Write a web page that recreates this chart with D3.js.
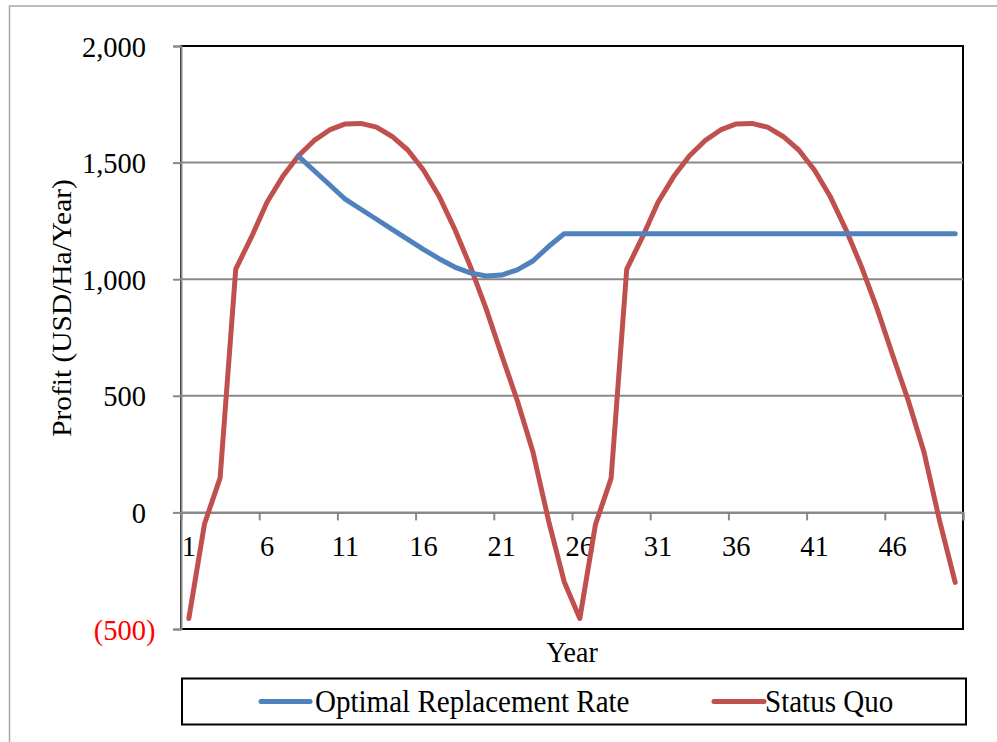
<!DOCTYPE html>
<html>
<head>
<meta charset="utf-8">
<script src="https://cdn.jsdelivr.net/npm/d3@7/dist/d3.min.js"></script>
<style>
  html, body { margin: 0; padding: 0; background: #fff; }
  svg { display: block; font-family: "Liberation Serif", "Times New Roman", serif; }
</style>
</head>
<body>
<svg id="chart" width="997" height="742"></svg>
<script>
// Profit per hectare per year over a 50-year horizon
const years = [1,2,3,4,5,6,7,8,9,10,11,12,13,14,15,16,17,18,19,20,21,22,23,24,25,
               26,27,28,29,30,31,32,33,34,35,36,37,38,39,40,41,42,43,44,45,46,47,48,49,50];

const statusQuo = [-455, -50, 148, 1043, 1180, 1330, 1440, 1528, 1594, 1640, 1666, 1668, 1652,
                   1612, 1554, 1468, 1356, 1215, 1055, 875, 675, 480, 260, -35, -297,
                   -455, -52, 146, 1043, 1180, 1330, 1440, 1528, 1594, 1640, 1666, 1668, 1652,
                   1612, 1554, 1468, 1356, 1215, 1055, 875, 675, 480, 260, -35, -300];

const optimalRate = [null, null, null, null, null, null, null, 1528, 1466, 1405, 1343, 1300, 1257,
                     1214, 1171, 1128, 1088, 1052, 1027, 1014, 1018, 1040, 1078, 1140, 1195,
                     1195, 1195, 1195, 1195, 1195, 1195, 1195, 1195, 1195, 1195, 1195, 1195, 1195,
                     1195, 1195, 1195, 1195, 1195, 1195, 1195, 1195, 1195, 1195, 1195, 1195];

const yTicks = [-500, 0, 500, 1000, 1500, 2000];
const xLabelYears = [1, 6, 11, 16, 21, 26, 31, 36, 41, 46];
const xTickBounds = [5, 10, 15, 20, 25, 30, 35, 40, 45, 50];

const seriesNames = ["Optimal Replacement Rate", "Status Quo"];
const seriesColors = ["#4F81BD", "#C0504D"];

const svg = d3.select("#chart");
const plot = { left: 181, right: 963, top: 46, bottom: 629 };
const stretch = 1.07; // text glyphs are set slightly taller than wide

const x = d3.scaleBand().domain(years).range([plot.left, plot.right]).padding(0);
const xEdge = d3.scaleLinear().domain([0, years.length]).range([plot.left, plot.right]);
const y = d3.scaleLinear().domain([-500, 2000]).range([plot.bottom, plot.top]);
const xc = d => x(d) + x.bandwidth() / 2;

// outer chart frame
svg.append("rect")
  .attr("x", 9.5).attr("y", 6).attr("width", 1100).attr("height", 900)
  .attr("fill", "none").attr("stroke", "#a6a6a6").attr("stroke-width", 1.5);

// plot area frame
svg.append("rect")
  .attr("x", plot.left).attr("y", plot.top)
  .attr("width", plot.right - plot.left).attr("height", plot.bottom - plot.top)
  .attr("fill", "none").attr("stroke", "#000").attr("stroke-width", 2);

// horizontal gridlines
svg.append("g")
  .selectAll("line")
  .data(yTicks.filter(v => v > -500 && v < 2000))
  .join("line")
  .attr("x1", plot.left).attr("x2", plot.right)
  .attr("y1", d => y(d)).attr("y2", d => y(d))
  .attr("stroke", "#898989").attr("stroke-width", 2);

// value axis
const yAxis = svg.append("g")
  .attr("transform", `translate(${plot.left},0)`)
  .call(d3.axisLeft(y).tickValues(yTicks).tickSize(8).tickFormat(""));
yAxis.select(".domain").attr("stroke", "#898989").attr("stroke-width", 2);
yAxis.selectAll(".tick line").attr("stroke", "#898989").attr("stroke-width", 2);

// value labels, accounting-style: negatives in red parentheses
const parenPad = 0.333; // width of ")" in em, reserved on positive labels
svg.append("g")
  .selectAll("text")
  .data(yTicks)
  .join("text")
  .attr("transform", d => `translate(155.5,${y(d) + 10.5}) scale(1,${stretch})`)
  .attr("dx", d => d < 0 ? 0 : `-${parenPad}em`)
  .attr("text-anchor", "end")
  .attr("font-size", 28.5)
  .attr("fill", d => d < 0 ? "#FF0000" : "#000")
  .text(d => d < 0 ? `(${d3.format(",")(-d)})` : d3.format(",")(d));

// category axis crossing at zero: tick marks at category boundaries
const xAxis = svg.append("g")
  .attr("transform", `translate(0,${y(0)})`)
  .call(d3.axisBottom(xEdge).tickValues(xTickBounds).tickSize(8).tickFormat(""));
xAxis.select(".domain").attr("stroke", "#898989").attr("stroke-width", 2);
xAxis.selectAll(".tick line").attr("stroke", "#898989").attr("stroke-width", 2);

// category labels
svg.append("g")
  .selectAll("text")
  .data(xLabelYears)
  .join("text")
  .attr("transform", d => `translate(${xc(d)},${y(0) + 43.5}) scale(1,${stretch})`)
  .attr("text-anchor", "middle")
  .attr("font-size", 28.5)
  .text(d => d);

// series lines
const line = d3.line()
  .defined(d => d.v !== null)
  .x(d => xc(d.year))
  .y(d => y(d.v));

const series = [optimalRate, statusQuo].map((vals, i) => ({
  name: seriesNames[i],
  color: seriesColors[i],
  points: years.map((yr, j) => ({ year: yr, v: vals[j] }))
}));

// status quo drawn first, optimal path on top
svg.append("g")
  .selectAll("path")
  .data([series[1], series[0]])
  .join("path")
  .attr("d", d => line(d.points))
  .attr("fill", "none")
  .attr("stroke", d => d.color)
  .attr("stroke-width", 5)
  .attr("stroke-linejoin", "round")
  .attr("stroke-linecap", "round");

// axis titles
svg.append("text")
  .attr("transform", `translate(${(plot.left + plot.right) / 2},661.5) scale(1,${stretch})`)
  .attr("text-anchor", "middle")
  .attr("font-size", 28)
  .text("Year");

svg.append("text")
  .attr("transform", `translate(71,308) rotate(-90) scale(${stretch},1)`)
  .attr("text-anchor", "middle")
  .attr("font-size", 27.5)
  .text("Profit (USD/Ha/Year)");

// legend
const legend = svg.append("g");
legend.append("rect")
  .attr("x", 182).attr("y", 678.5).attr("width", 784).attr("height", 46)
  .attr("fill", "#fff").attr("stroke", "#000").attr("stroke-width", 2);

const legendItems = [
  { s: series[0], x0: 261, x1: 310, tx: 315 },
  { s: series[1], x0: 714, x1: 764, tx: 765 }
];
legendItems.forEach(it => {
  legend.append("line")
    .attr("x1", it.x0).attr("x2", it.x1)
    .attr("y1", 701.5).attr("y2", 701.5)
    .attr("stroke", it.s.color).attr("stroke-width", 5)
    .attr("stroke-linecap", "round");
  legend.append("text")
    .attr("transform", `translate(${it.tx},712) scale(0.985,1.09)`)
    .attr("font-size", 29.5)
    .text(it.s.name);
});
</script>
</body>
</html>
